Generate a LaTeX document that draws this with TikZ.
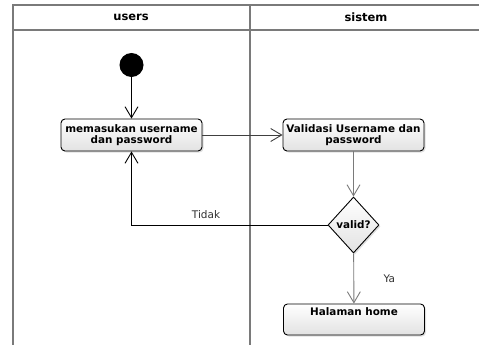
\documentclass[tikz,border=0pt]{standalone}
\usepackage{fontspec}
\setmainfont{DejaVu Sans}
\usepackage{xcolor}
\definecolor{lanegray}{HTML}{7A7A7A}
\definecolor{boxbot}{HTML}{E2E2E2}
\definecolor{lbltext}{HTML}{303030}
\usepackage{tikz}
\usetikzlibrary{arrows.meta,positioning,shapes.geometric,shadows}

\begin{document}
\begin{tikzpicture}[x=1pt,y=-1pt,
  act/.style={draw,line width=0.9pt,rounded corners=4pt,top color=white,bottom color=boxbot,
    drop shadow={opacity=0.25,shadow xshift=1.5pt,shadow yshift=-1.5pt},
    minimum width=141pt,minimum height=32pt,inner sep=1pt,align=center,
    font=\bfseries\fontsize{10.4}{11}\selectfont},
  flow/.style={line width=0.9pt,-{Straight Barb[length=11pt,width=13pt]}},
  lane/.style={lanegray,line width=1.3pt},
  lbl/.style={text=lbltext,font=\fontsize{10.5}{12}\selectfont}]
\useasboundingbox (0,0) rectangle (479,345);
% swimlanes
\draw[lane] (13,345) -- (13,5) -- (479,5);
\draw[lane] (13,30) -- (479,30);
\draw[lane] (250,5) -- (250,345);
\node[font=\bfseries\fontsize{11.5}{14}\selectfont] (hUsers) at (131,17) {users};
\node[font=\bfseries\fontsize{11.5}{14}\selectfont] (hSistem) at (366,17) {sistem};
% nodes
\node[circle,fill=black,minimum size=24pt,inner sep=0pt,
  drop shadow={opacity=0.3,shadow xshift=0pt,shadow yshift=0pt,scale=1.12}] (start) at (131.5,65) {};
\node[act] (masuk) at (131.5,135) {memasukan username\\dan password};
\node[act] (validasi) at (353.5,135) {Validasi Username dan\\password};
\node[diamond,draw,line width=0.9pt,top color=white,bottom color=boxbot,minimum width=51pt,minimum height=56pt,
  inner sep=0pt,font=\bfseries\fontsize{10.4}{11}\selectfont,
  drop shadow={opacity=0.25,shadow xshift=1.5pt,shadow yshift=-1.5pt}] (cek) at (353.5,225) {valid?};
\node[act,minimum height=31pt] (home) at (354,319.5) {Halaman home\\[1pt]\strut};
% arrows
\draw[flow] (start) -- (masuk);
\draw[flow,darkgray] (masuk) -- (validasi);
\draw[flow,lanegray] (validasi) -- (cek);
\draw[flow] (cek.west) -| node[lbl,pos=0.31,above=3pt] {Tidak} (masuk.south);
\draw[flow,lanegray] (cek) -- node[lbl,right=26pt] {Ya} (home);
\end{tikzpicture}
\end{document}
